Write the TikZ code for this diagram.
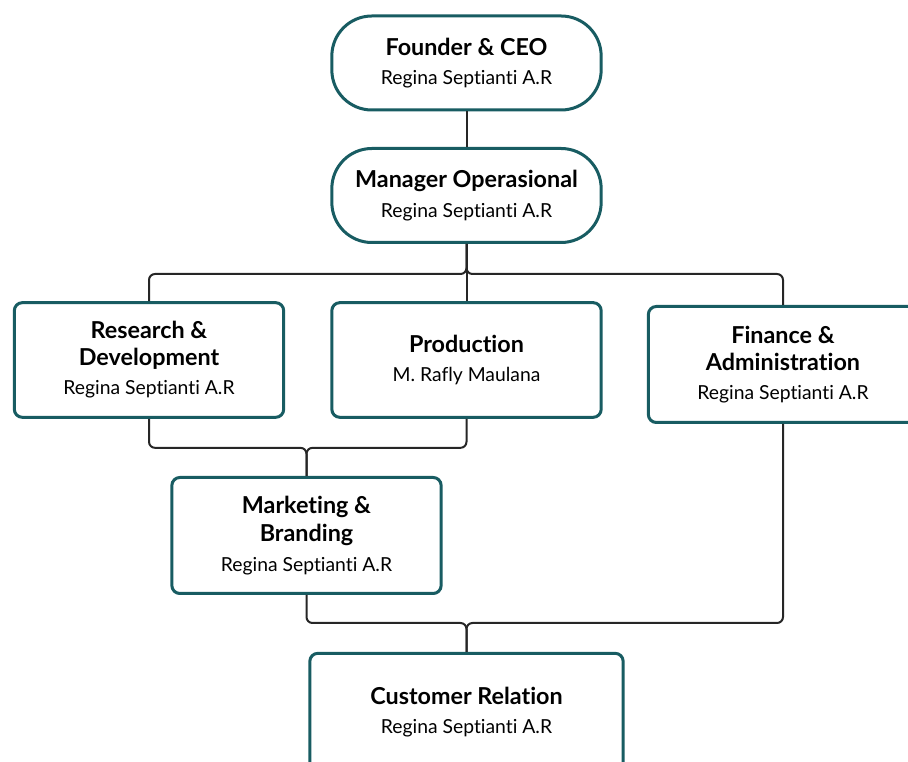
\documentclass[tikz,border=0pt]{standalone}
\usepackage{fontspec}
\setmainfont{Lato}[Ligatures=NoCommon]
\usepackage{tikz}
\definecolor{boxteal}{RGB}{24,92,98}
\newcommand{\rolefont}{\bfseries\fontsize{17.5pt}{20pt}\selectfont}

\begin{document}
\begin{tikzpicture}[
		x=0.75pt, y=-0.75pt,
		box/.style={rectangle, draw=boxteal, line width=2.25pt, fill=white, rounded corners=6pt,
				minimum width=202pt, minimum height=86pt, inner sep=0pt, align=center,
				font=\fontsize{14.5pt}{16pt}\selectfont},
		pill/.style={box, rounded corners=30pt, minimum height=70.5pt},
		conn/.style={line width=1.5pt, black!85, rounded corners=4.5pt},
		]
		\useasboundingbox (0,0) rectangle (908,762);

		% Nodes
		\node[pill] (founder) at (466.5,63) {\rolefont Founder \& CEO\\[6pt]Regina Septianti A.R};
		\node[pill] (manager) at (466.5,195.5) {\rolefont Manager Operasional\\[6pt]Regina Septianti A.R};
		\node[box] (research) at (149,360) {\rolefont Research \&\\[4pt]\rolefont Development\\[6pt]Regina Septianti A.R};
		\node[box] (production) at (466.5,360) {\rolefont Production\\[6pt]M. Rafly Maulana};
		\node[box, minimum height=87pt] (finance) at (783,364.5) {\rolefont Finance \&\\[4pt]\rolefont Administration\\[6pt]Regina Septianti A.R};
		\node[box, minimum height=87pt] (marketing) at (306.5,535.5) {\rolefont Marketing \&\\[4pt]\rolefont Branding\\[6pt]Regina Septianti A.R};
		\node[box, minimum width=235pt, minimum height=88pt] (customer) at (466.5,712) {\rolefont Customer Relation\\[6pt]Regina Septianti A.R};

		% Connectors
		\draw[conn] (founder) -- (manager);
		\draw[conn] (manager.south) -- (production.north);
		\draw[conn] (manager.south) -- ++(0,30) -| (research.north);
		\draw[conn] (manager.south) -- ++(0,30) -| (finance.north);
		\draw[conn] (research.south) -- ++(0,29) -| (marketing.north);
		\draw[conn] (production.south) -- ++(0,29) -| (marketing.north);
		\draw[conn] (marketing.south) -- ++(0,28) -| (customer.north);
		\draw[conn] (finance.south) -- ++(0,199) -| (customer.north);
	\end{tikzpicture}
\end{document}
